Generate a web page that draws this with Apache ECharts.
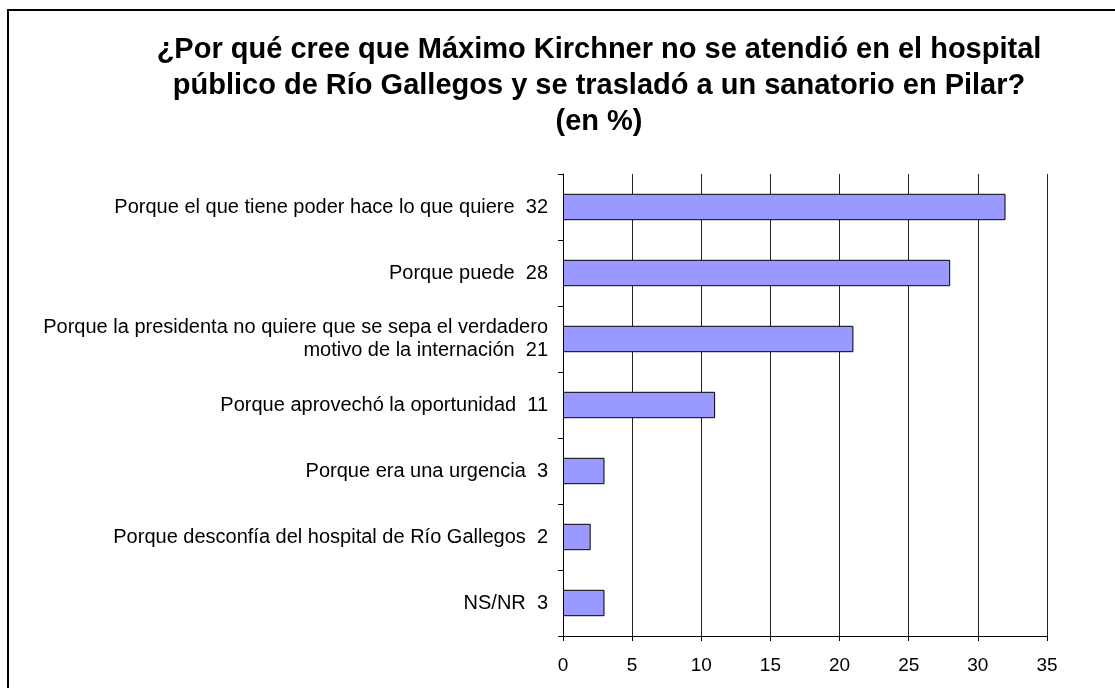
<!DOCTYPE html>
<html>
<head>
<meta charset="utf-8">
<script src="https://cdn.jsdelivr.net/npm/echarts@6/dist/echarts.min.js"></script>
<style>
  html, body { margin: 0; padding: 0; background: #fff; }
  #chart { width: 1115px; height: 688px; }
</style>
</head>
<body>
<div id="chart"></div>
<script>
// respuestas y porcentajes
var categories = [
    'Porque el que tiene poder hace lo que quiere',
    'Porque puede',
    'Porque la presidenta no quiere que se sepa el verdadero\nmotivo de la internación',
    'Porque aprovechó la oportunidad',
    'Porque era una urgencia',
    'Porque desconfía del hospital de Río Gallegos',
    'NS/NR'
];
var values = [32, 28, 21, 11, 3, 2, 3];
var xTicks = [0, 5, 10, 15, 20, 25, 30, 35];

var titleLines = [
    '¿Por qué cree que Máximo Kirchner no se atendió en el hospital',
    'público de Río Gallegos y se trasladó a un sanatorio en Pilar?',
    '(en %)'
];

(function() {
    var FONT = '"Liberation Sans", Arial, sans-serif';
    var chart = echarts.init(document.getElementById('chart'));

    // la etiqueta lleva el valor al final
    var labels = categories.map(function(c, i) {
        return c + '  ' + values[i];
    });

    var option = {
        backgroundColor: '#fff',
        animation: false,
        title: {
            text: titleLines.join('\n'),
            left: 594,
            top: 27,
            textAlign: 'center',
            textStyle: {
                fontFamily: FONT,
                fontSize: 29,
                fontWeight: 'bold',
                color: '#000',
                lineHeight: 36
            }
        },
        graphic: [{
            type: 'rect',
            shape: { x: 8, y: 10, width: 1200, height: 800 },
            style: { fill: 'none', stroke: '#000', lineWidth: 2 },
            silent: true
        }],
        grid: { left: 563, right: 68, top: 174, bottom: 52 },
        xAxis: {
            type: 'value',
            min: 0,
            max: 35,
            interval: 5,
            axisLine: { show: true, lineStyle: { color: '#000', width: 1 } },
            axisTick: { show: true, length: 5, lineStyle: { color: '#000' } },
            axisLabel: {
                fontFamily: FONT, fontSize: 19, color: '#000', margin: 20,
                formatter: function(v) { return xTicks.indexOf(v) >= 0 ? String(v) : ''; }
            },
            splitLine: { show: true, lineStyle: { color: '#222', width: 1 } }
        },
        yAxis: {
            type: 'category',
            inverse: true,
            data: labels,
            axisLine: { show: true, lineStyle: { color: '#000', width: 1 } },
            axisTick: { show: true, length: 5, lineStyle: { color: '#000' } },
            axisLabel: {
                fontFamily: FONT, fontSize: 20, color: '#000', margin: 15,
                align: 'right', lineHeight: 23
            },
            splitLine: { show: false }
        },
        series: [{
            type: 'bar',
            data: values,
            barWidth: '40%',
            itemStyle: { color: '#9999FF', borderColor: '#000', borderWidth: 1 }
        }]
    };
    chart.setOption(option);
})();
</script>
</body>
</html>
